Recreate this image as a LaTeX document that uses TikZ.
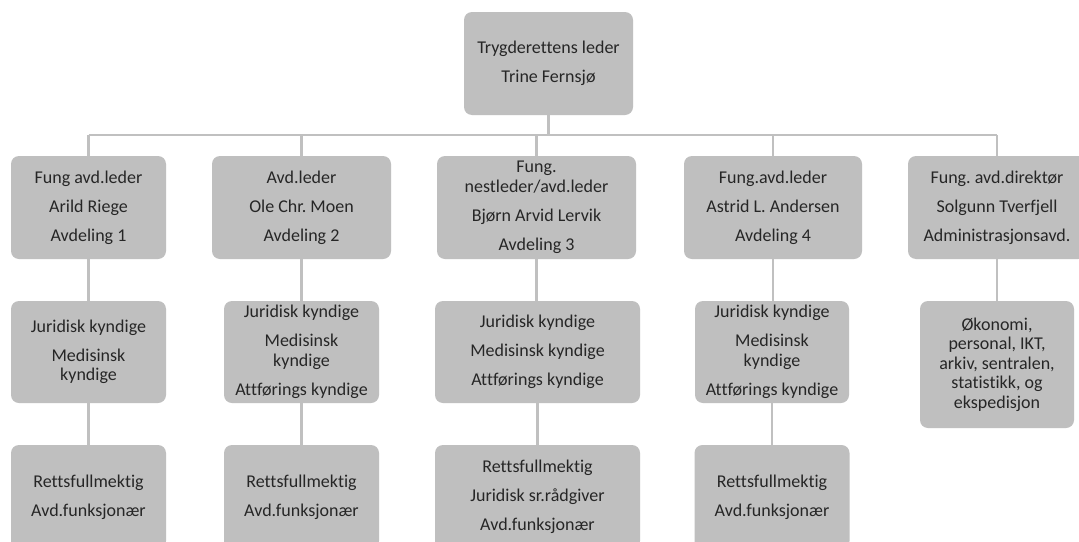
\documentclass[tikz,border=0pt]{standalone}
\usepackage{fontspec}
\setmainfont{Carlito}[Ligatures={NoCommon}]
\frenchspacing
\definecolor{boxgray}{HTML}{BFBFBF}
\definecolor{linegray}{HTML}{C0C0C0}
\definecolor{txt}{HTML}{262626}
\newcommand{\pgap}{\\[9.5pt]}
\tikzset{
  orgbox/.style={fill=boxgray, draw=none, rounded corners=8pt, inner sep=0pt,
    align=center, text=txt, font=\fontsize{18}{19.5}\selectfont},
  conn/.style={draw=linegray, line width=2.5pt}
}
\begin{document}
\begin{tikzpicture}[x=1pt,y=-1pt]
\clip (0,0) rectangle (1079,541);
\fill[white] (0,0) rectangle (1079,541);
% top
\node[orgbox, minimum width=169pt, minimum height=103pt] (top) at (548.5,63.5)
  {Trygderettens leder\pgap Trine Fernsjø};
% row 1
\node[orgbox, minimum width=155pt, minimum height=103pt] (b1) at (88.5,207.5)
  {Fung avd.leder\pgap Arild Riege\pgap Avdeling 1};
\node[orgbox, minimum width=179pt, minimum height=103pt] (b2) at (301.5,207.5)
  {Avd.leder\pgap Ole Chr. Moen\pgap Avdeling 2};
\node[orgbox, minimum width=199pt, minimum height=103pt] (b3) at (536.5,207.5)
  {Fung.\\ nestleder/avd.leder\pgap Bjørn Arvid Lervik\pgap Avdeling 3};
\node[orgbox, minimum width=178pt, minimum height=103pt] (b4) at (773,207.5)
  {Fung.avd.leder\pgap Astrid L. Andersen\pgap Avdeling 4};
\node[orgbox, minimum width=178pt, minimum height=103pt] (b5) at (997,207.5)
  {Fung. avd.direktør\pgap Solgunn Tverfjell\pgap Administrasjonsavd.};
% row 2
\node[orgbox, minimum width=155pt, minimum height=102pt] (c1) at (88.5,352)
  {Juridisk kyndige\pgap Medisinsk\\ kyndige};
\node[orgbox, minimum width=155pt, minimum height=102pt] (c2) at (301.5,352)
  {Juridisk kyndige\pgap Medisinsk\\ kyndige\pgap Attførings kyndige};
\node[orgbox, minimum width=205pt, minimum height=102pt] (c3) at (537.5,352)
  {Juridisk kyndige\pgap Medisinsk kyndige\pgap Attførings kyndige};
\node[orgbox, minimum width=154pt, minimum height=102pt] (c4) at (772,352)
  {Juridisk kyndige\pgap Medisinsk\\ kyndige\pgap Attførings kyndige};
\node[orgbox, minimum width=154pt, minimum height=127pt] (c5) at (997,364.5)
  {Økonomi,\\ personal, IKT,\\ arkiv, sentralen,\\ statistikk, og\\ ekspedisjon};
% row 3
\node[orgbox, minimum width=155pt, minimum height=104pt] (d1) at (88.5,497)
  {Rettsfullmektig\pgap Avd.funksjonær};
\node[orgbox, minimum width=155pt, minimum height=104pt] (d2) at (301.5,497)
  {Rettsfullmektig\pgap Avd.funksjonær};
\node[orgbox, minimum width=205pt, minimum height=104pt] (d3) at (537.5,497)
  {Rettsfullmektig\pgap Juridisk sr.rådgiver\pgap Avd.funksjonær};
\node[orgbox, minimum width=155pt, minimum height=104pt] (d4) at (772,497)
  {Rettsfullmektig\pgap Avd.funksjonær};
% connectors
\coordinate (busL) at (88.5,135);
\coordinate (busR) at (997,135);
\draw[conn] (busL) -- (busR);
\draw[conn] (top.south) -- (top.south |- busL);
\foreach \n in {b1,b2,b3,b4,b5}{
  \draw[conn] (\n.north) -- (\n.north |- busL);
}
\foreach \a/\b in {b1/c1,b2/c2,b3/c3,b4/c4,b5/c5,c1/d1,c2/d2,c3/d3,c4/d4}{
  \draw[conn] (\a.south) -- (\a.south |- \b.north);
}
\end{tikzpicture}
\end{document}
